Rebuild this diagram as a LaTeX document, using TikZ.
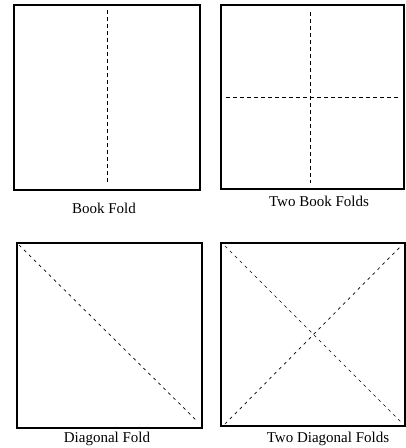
\documentclass[tikz,border=0pt]{standalone}
\usepackage{fontspec}
\setmainfont{Liberation Serif}
\begin{document}
\begin{tikzpicture}[x=1pt,y=-1pt,
  sheet/.style={draw, line width=1.4pt},
  fold/.style={draw, line width=0.8pt, dash pattern=on 4pt off 3pt},
  dfold/.style={draw, line width=0.7pt, dash pattern=on 3pt off 4pt},
  caption/.style={font=\fontsize{15}{17}\selectfont, inner sep=0pt}]
\useasboundingbox (0,0) rectangle (406,448);
% Book fold
\draw[sheet] (14,5) rectangle (200,190);
\coordinate (a1) at (107,10); \coordinate (a2) at (107,183);
\draw[fold] (a1) -- (a2);
\node[caption] (l1) at (104,208) {Book Fold};
% Two book folds
\draw[sheet] (221,5) rectangle (404,189);
\coordinate (b1) at (310,12); \coordinate (b2) at (310,183);
\coordinate (b3) at (226,97); \coordinate (b4) at (399,97);
\draw[fold] (b1) -- (b2);
\draw[fold] (b3) -- (b4);
\node[caption] (l2) at (319,201) {Two Book Folds};
% Diagonal fold
\draw[sheet] (17,243) rectangle (202,428);
\coordinate (c1) at (19,245); \coordinate (c2) at (197,421);
\draw[dfold] (c1) -- (c2);
\node[caption] (l3) at (107,439) {Diagonal Fold};
% Two diagonal folds
\draw[sheet] (221,243) rectangle (405,426);
\coordinate (d1) at (225,246); \coordinate (d2) at (402,423);
\coordinate (d3) at (225,424); \coordinate (d4) at (400,247);
\draw[dfold] (d1) -- (d2);
\draw[dfold] (d3) -- (d4);
\node[caption] (l4) at (328,439) {Two Diagonal Folds};
\end{tikzpicture}
\end{document}
